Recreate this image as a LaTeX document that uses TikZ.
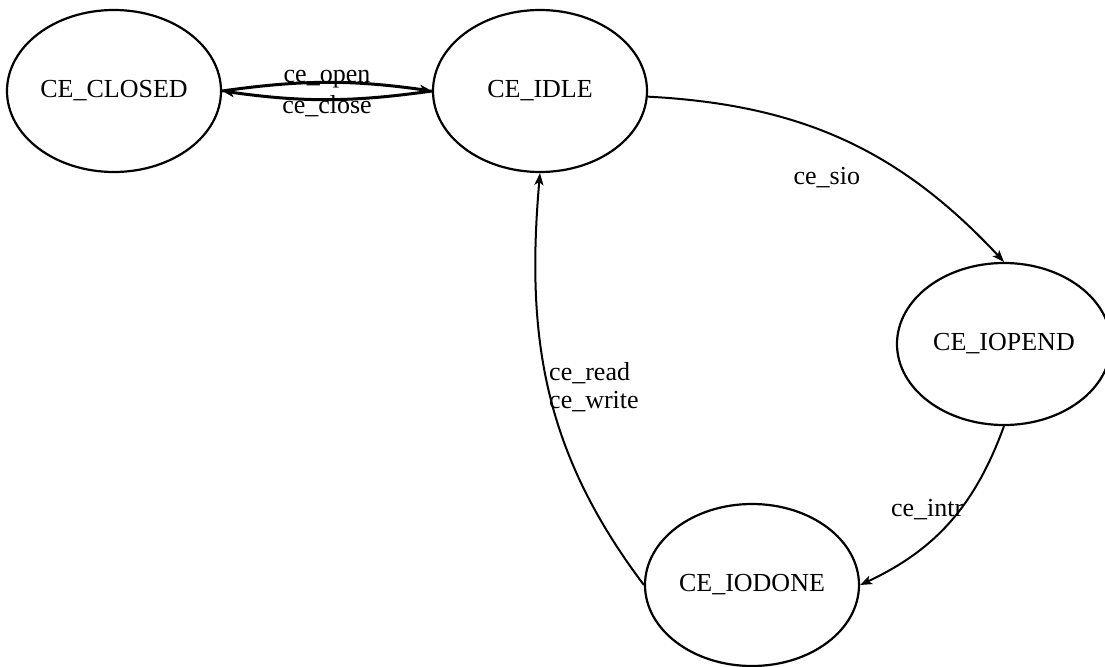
\documentclass[tikz,border=0pt]{standalone}
\usepackage{fontspec}
\setmainfont{Liberation Serif}
\usetikzlibrary{shapes.geometric,positioning,arrows.meta}

\begin{document}
\begin{tikzpicture}
  [->, >={Stealth[length=6pt,width=4.5pt,inset=1.5pt]}, x=0.5pt, y=0.5pt, on grid,
    font=\fontsize{13}{14}\selectfont,
    state/.style={%
      ellipse, draw, line width=1.1pt, inner sep=0pt,
      minimum width=107pt, minimum height=81pt
    },
    trans/.style={%
      line width=1pt
    },
    evt/.style={%
      inner sep=0pt, align=left
    },
  ]

  \useasboundingbox (0,0) rectangle (1105,666);

  \node[state] (closed) at (114,575) {CE\_CLOSED};
  \node[state] (idle) [right=213pt of closed] {CE\_IDLE};
  \node[state] (iopend) [below right=126.5pt and 232pt of idle] {CE\_IOPEND};
  \node[state] (iodone) [below left=120.5pt and 126pt of iopend] {CE\_IODONE};

  % open / close pair
  \draw[trans,line width=1.5pt] (closed.east) to[bend left=8]
    node[evt,midway,anchor=base] {ce\_open} (idle.west);
  \draw[trans,line width=1.5pt] (idle.west) to[bend left=8]
    node[evt,midway,anchor=base,yshift=-7pt] {ce\_close} (closed.east);

  % i/o cycle
  \draw[trans] (idle) to[out=-3,in=133]
    node[evt,pos=0.45,below=17pt] {ce\_sio} (iopend.north);
  \draw[trans] (iopend.south) to[out=-110,in=25]
    node[evt,pos=0.42,anchor=east,xshift=2pt] {ce\_intr} (iodone.east);
  \draw[trans] (iodone.west) to[out=127,in=-95]
    node[evt,pos=0.51,anchor=west] {ce\_read\\ce\_write} (idle.south);

\end{tikzpicture}
\end{document}
